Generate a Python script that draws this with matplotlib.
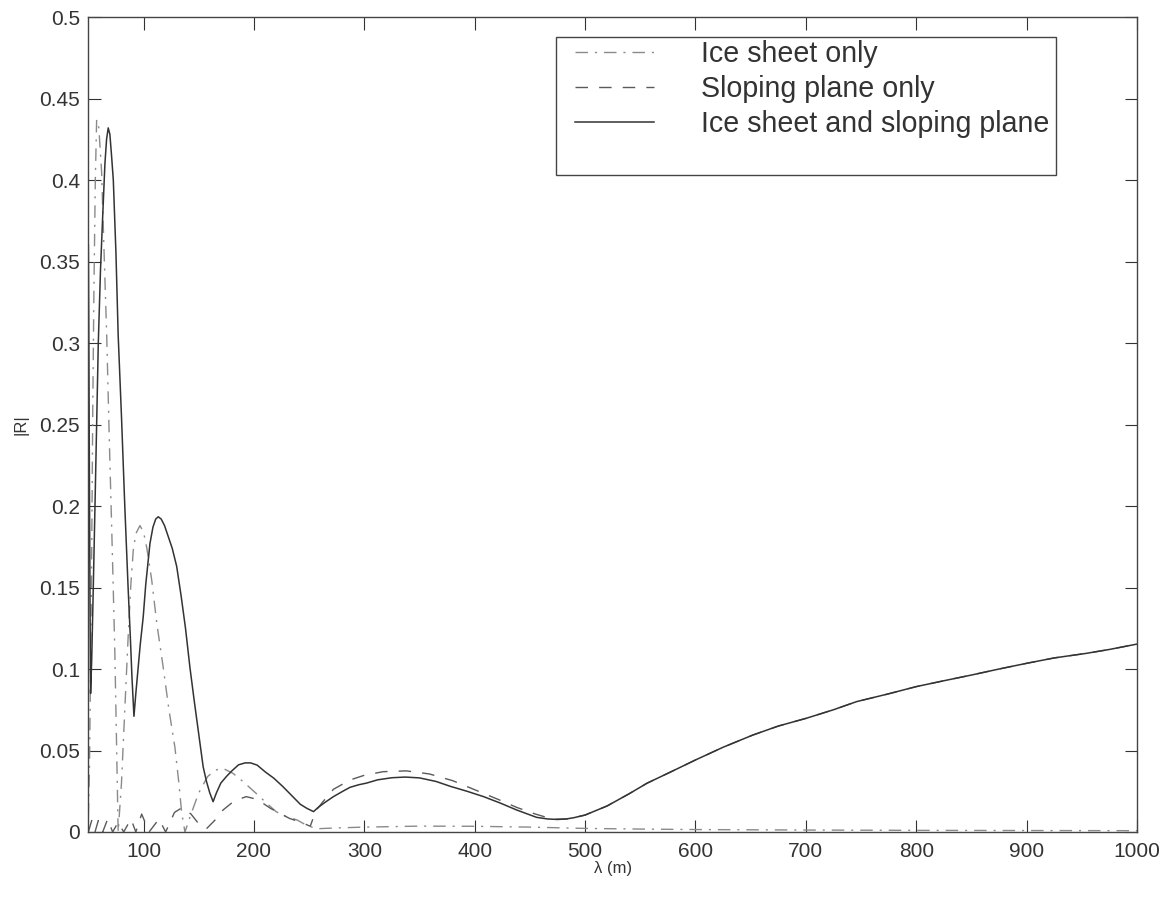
import matplotlib.pyplot as plt
from matplotlib.patches import Rectangle

plt.rcParams["font.family"] = ["Liberation Sans", "DejaVu Sans"]

# wavelength (m) and |R| for the combined ice sheet + sloping plane case
lam_both = [50, 50.5, 51, 51.5, 52, 53, 54.4, 56, 57.5, 59, 61, 63, 65, 66.5, 68, 69.5,
            71, 72.6, 75, 77, 80, 83, 86, 88, 89.5, 91.3, 93, 95, 97, 99.7, 102, 105.8,
            108.5, 111, 113.3, 116, 119, 122, 126, 130, 134, 138, 142, 146, 150, 154,
            157, 160, 163, 166, 170, 175, 180, 186, 192, 197, 203, 210, 218, 226, 234,
            242, 248, 254, 258, 264, 272, 280, 287, 295, 302, 312, 325, 337, 350, 365,
            378, 393, 408, 423, 438, 456, 466, 475, 483, 490, 500, 520, 540, 556, 578,
            600, 625, 652, 675, 700, 725, 746, 775, 800, 825, 850, 875, 900, 925, 954,
            975, 1000]
r_both = [0.36, 0.29, 0.21, 0.14, 0.085, 0.105, 0.148, 0.20, 0.25, 0.30, 0.345, 0.378,
          0.41, 0.425, 0.432, 0.428, 0.415, 0.40, 0.355, 0.305, 0.255, 0.20, 0.15, 0.12,
          0.095, 0.071, 0.085, 0.10, 0.115, 0.132, 0.152, 0.177, 0.187, 0.192, 0.1934,
          0.192, 0.188, 0.182, 0.174, 0.163, 0.145, 0.125, 0.101, 0.08, 0.06, 0.04,
          0.031, 0.024, 0.0186, 0.024, 0.03, 0.034, 0.0375, 0.0412, 0.0424, 0.0424,
          0.041, 0.037, 0.033, 0.028, 0.0225, 0.017, 0.0145, 0.0125, 0.015, 0.018,
          0.0217, 0.0248, 0.0274, 0.029, 0.030, 0.032, 0.0333, 0.0337, 0.0332, 0.031,
          0.028, 0.025, 0.0217, 0.0178, 0.0135, 0.009, 0.008, 0.0077, 0.008, 0.0088,
          0.0104, 0.016, 0.0235, 0.0299, 0.037, 0.0442, 0.052, 0.0595, 0.065, 0.0697,
          0.075, 0.080, 0.0848, 0.0892, 0.0928, 0.0963, 0.10, 0.1035, 0.1068, 0.1096,
          0.112, 0.1153]

# sloping plane alone
lam_slope = [50, 53, 56, 59, 63, 67.5, 72, 77, 82, 88.6, 93, 98.3, 105, 114, 120, 128,
             135, 143, 150, 157, 165, 172, 182, 193, 203, 215, 232, 245, 251, 256, 263,
             272, 287, 300, 317, 338, 359, 380, 408, 423, 438, 455, 471, 483, 490, 500,
             520, 540, 556, 578, 600, 625, 652, 675, 700, 725, 746, 775, 800, 825, 850,
             875, 900, 925, 954, 975, 1000]
r_slope = [0.0, 0.007, 0.0, 0.007, 0.0, 0.008, 0.0, 0.006, 0.0, 0.008, 0.0, 0.011, 0.0,
           0.008, 0.0, 0.012, 0.015, 0.011, 0.005, 0.002, 0.0075, 0.0135, 0.019, 0.0217,
           0.02, 0.0145, 0.0084, 0.0053, 0.0035, 0.013, 0.019, 0.0262, 0.0319, 0.0348,
           0.037, 0.0375, 0.0356, 0.0315, 0.0237, 0.0195, 0.0151, 0.011, 0.0078, 0.008,
           0.0088, 0.0104, 0.016, 0.0235, 0.0299, 0.037, 0.0442, 0.052, 0.0595, 0.065,
           0.0697, 0.075, 0.080, 0.0848, 0.0892, 0.0928, 0.0963, 0.10, 0.1035, 0.1068,
           0.1096, 0.112, 0.1153]

# ice sheet alone
lam_ice = [50, 51, 52, 53, 54, 55, 56.3, 57.5, 59.5, 62, 64.5, 66.6, 69, 71, 72.6, 74,
           75.6, 77, 80, 83, 86.2, 88.5, 90.7, 93, 96.7, 100, 103, 107.3, 112, 117.8,
           123, 128.4, 132, 134.5, 137.5, 143, 150, 158, 165, 172, 181, 190, 202, 211,
           220, 229, 239, 248, 257, 275, 300, 350, 400, 450, 500, 550, 600, 700, 800,
           900, 1000]
r_ice = [0.01, 0.04, 0.10, 0.17, 0.26, 0.33, 0.40, 0.437, 0.432, 0.405, 0.35, 0.305,
         0.24, 0.19, 0.148, 0.11, 0.052, 0.0, 0.03, 0.075, 0.122, 0.152, 0.173, 0.183,
         0.188, 0.184, 0.174, 0.155, 0.128, 0.101, 0.075, 0.052, 0.03, 0.012, 0.0,
         0.011, 0.024, 0.034, 0.038, 0.039, 0.036, 0.031, 0.0237, 0.018, 0.0125, 0.0095,
         0.0074, 0.004, 0.002, 0.0025, 0.003, 0.0036, 0.0035, 0.003, 0.0022, 0.0018,
         0.0015, 0.0012, 0.001, 0.0009, 0.0008]

labels = ["Ice sheet only", "Sloping plane only", "Ice sheet and sloping plane"]

fig = plt.figure(figsize=(11.75, 8.98), dpi=100)
ax = fig.add_axes([0.0752, 0.0735, 0.8925, 0.9075])

ax.plot(lam_ice, r_ice, color="#8a8a8a", linewidth=1.0, dashes=(9, 5, 1.5, 5), label=labels[0])
ax.plot(lam_slope, r_slope, color="#5a5a5a", linewidth=1.0, dashes=(9, 8), label=labels[1])
ax.plot(lam_both, r_both, color="#333333", linewidth=1.1, label=labels[2])

ax.set_xlim(50, 1000)
ax.set_ylim(0, 0.5)
ax.set_xticks([100, 200, 300, 400, 500, 600, 700, 800, 900, 1000])
ax.set_yticks([0, 0.05, 0.1, 0.15, 0.2, 0.25, 0.3, 0.35, 0.4, 0.45, 0.5])
ax.set_yticklabels(["0", "0.05", "0.1", "0.15", "0.2", "0.25", "0.3", "0.35", "0.4", "0.45", "0.5"])
ax.tick_params(direction="in", length=9, width=0.8, top=True, right=True,
               labelsize=15, colors="#333333", pad=6)
ax.tick_params(axis="x", pad=7)
for side in ax.spines.values():
    side.set_color("#444444")
    side.set_linewidth(1.0)

ax.set_xlabel("λ (m)", fontsize=12, color="#333333", labelpad=0.5)
ax.set_ylabel("|R|", fontsize=12, color="#333333", labelpad=7.5)

# legend entries without a frame, boxed by a plain rectangle with extra room at the bottom
leg = ax.legend(loc="upper left", bbox_to_anchor=(0.464, 0.9724), borderaxespad=0,
                fontsize=20.6, frameon=False, handlelength=2.75,
                handletextpad=1.65, labelspacing=0.25, borderpad=0)
for txt in leg.get_texts():
    txt.set_color("#333333")
ax.add_patch(Rectangle((0.4459, 0.8061), 0.4769, 0.1694, transform=ax.transAxes,
                       facecolor="white", edgecolor="#444444", linewidth=1.0, zorder=4))
leg.set_zorder(5)

fig.savefig("out.png", dpi=100)
